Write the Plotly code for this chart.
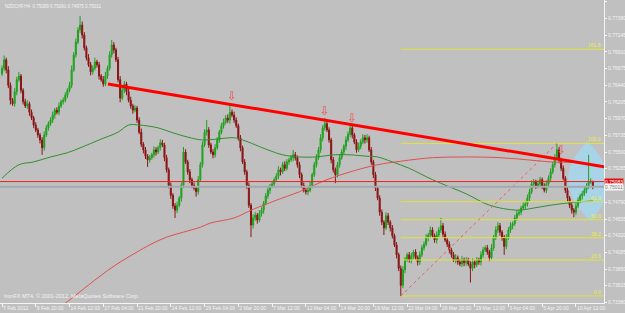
import plotly.graph_objects as go
import numpy as np

# ---------------- data ----------------
symbol_title = "NZDCHF,H4  0.75089 0.75091 0.74975 0.75011"
copyright_text = "IronFX MT4, \u00a9 2001-2012, MetaQuotes Software Corp."

first_open = 0.7660
closes = [
    0.7668, 0.7680, 0.7666, 0.7644, 0.7623, 0.7618, 0.7635, 0.7652, 0.7657, 0.7637,
    0.7621, 0.7615, 0.7618, 0.7606, 0.7598, 0.7588, 0.7581, 0.7574, 0.7567, 0.7556,
    0.7574, 0.7584, 0.7590, 0.7595, 0.7602, 0.7609, 0.7606, 0.7615, 0.7621, 0.7623,
    0.7630, 0.7637, 0.7644, 0.7666, 0.7687, 0.7705, 0.7722, 0.7729, 0.7715, 0.7697,
    0.7683, 0.7673, 0.7663, 0.7668, 0.7677, 0.7673, 0.7657, 0.7652, 0.7646, 0.7657,
    0.7668, 0.7687, 0.7701, 0.7694, 0.7680, 0.7652, 0.7626, 0.7637, 0.7646, 0.7635,
    0.7623, 0.7615, 0.7609, 0.7612, 0.7595, 0.7578, 0.7561, 0.7553, 0.7544, 0.7539,
    0.7542, 0.7546, 0.7553, 0.7550, 0.7556, 0.7563, 0.7560, 0.7542, 0.7525, 0.7503,
    0.7489, 0.7474, 0.7468, 0.7475, 0.7485, 0.7503, 0.7550, 0.7536, 0.7522, 0.7511,
    0.7503, 0.7499, 0.7494, 0.7511, 0.7532, 0.7560, 0.7578, 0.7581, 0.7560, 0.7550,
    0.7546, 0.7556, 0.7567, 0.7578, 0.7587, 0.7592, 0.7598, 0.7595, 0.7606, 0.7602,
    0.7595, 0.7587, 0.7570, 0.7556, 0.7536, 0.7522, 0.7503, 0.7475, 0.7447, 0.7457,
    0.7461, 0.7454, 0.7463, 0.7468, 0.7478, 0.7488, 0.7496, 0.7502, 0.7505, 0.7511,
    0.7516, 0.7525, 0.7522, 0.7532, 0.7527, 0.7536, 0.7539, 0.7542, 0.7546, 0.7542,
    0.7532, 0.7518, 0.7503, 0.7496, 0.7494, 0.7496, 0.7503, 0.7518, 0.7532, 0.7542,
    0.7553, 0.7570, 0.7584, 0.7590, 0.7581, 0.7567, 0.7539, 0.7525, 0.7518, 0.7532,
    0.7542, 0.7550, 0.7558, 0.7567, 0.7575, 0.7584, 0.7574, 0.7564, 0.7553, 0.7558,
    0.7564, 0.7570, 0.7567, 0.7570, 0.7553, 0.7536, 0.7518, 0.7499, 0.7485, 0.7465,
    0.7451, 0.7443, 0.7460, 0.7451, 0.7443, 0.7432, 0.7419, 0.7405, 0.7386, 0.7362,
    0.7384, 0.7398, 0.7405, 0.7398, 0.7403, 0.7409, 0.7401, 0.7395, 0.7405, 0.7415,
    0.7420, 0.7429, 0.7433, 0.7440, 0.7432, 0.7426, 0.7433, 0.7440, 0.7446, 0.7434,
    0.7426, 0.7420, 0.7412, 0.7405, 0.7398, 0.7401, 0.7395, 0.7392, 0.7398, 0.7394,
    0.7398, 0.7392, 0.7386, 0.7395, 0.7391, 0.7398, 0.7395, 0.7405, 0.7412, 0.7415,
    0.7409, 0.7401, 0.7415, 0.7429, 0.7440, 0.7446, 0.7437, 0.7429, 0.7417, 0.7429,
    0.7440, 0.7446, 0.7449, 0.7457, 0.7463, 0.7465, 0.7471, 0.7474, 0.7477, 0.7485,
    0.7494, 0.7505, 0.7508, 0.7502, 0.7505, 0.7511, 0.7502, 0.7496, 0.7505, 0.7513,
    0.7522, 0.7532, 0.7542, 0.7553, 0.7539, 0.7527, 0.7513, 0.7496, 0.7485, 0.7475,
    0.7468, 0.7465, 0.7474, 0.7482, 0.7488, 0.7491, 0.7496, 0.7502, 0.7508, 0.75089,
    0.75011,
]
upper_wick_pips = [
    4, 6, 3, 5, 4, 3, 5, 4, 6, 3,
    3, 4, 5, 3, 4, 3, 4, 3, 3, 4,
    5, 4, 3, 4, 5, 3, 4, 5, 3, 4,
    4, 3, 5, 6, 4, 5, 4, 13, 5, 4,
    3, 5, 4, 4, 6, 3, 4, 3, 5, 6,
    4, 5, 7, 4, 3, 4, 5, 6, 4, 3,
    4, 5, 3, 4, 3, 4, 5, 3, 4, 3,
    4, 3, 5, 4, 3, 5, 4, 3, 4, 3,
    4, 3, 4, 5, 3, 4, 7, 4, 3, 4,
    3, 4, 3, 5, 4, 5, 4, 14, 4, 3,
    4, 5, 4, 3, 4, 5, 4, 5, 10, 4,
    5, 4, 3, 4, 3, 4, 3, 4, 3, 5,
    4, 3, 5, 4, 3, 4, 5, 3, 4, 3,
    4, 5, 3, 4, 5, 4, 3, 4, 7, 4,
    3, 4, 3, 4, 3, 4, 5, 3, 4, 5,
    4, 5, 4, 8, 5, 4, 3, 4, 3, 4,
    5, 4, 3, 5, 4, 6, 4, 3, 4, 5,
    4, 5, 4, 5, 3, 4, 3, 4, 3, 4,
    4, 3, 5, 4, 3, 4, 3, 4, 3, 4,
    5, 4, 3, 4, 5, 3, 4, 3, 5, 4,
    4, 5, 3, 5, 4, 3, 5, 4, 11, 4,
    4, 3, 4, 3, 4, 5, 3, 4, 5, 3,
    4, 3, 4, 5, 3, 4, 3, 5, 4, 3,
    4, 3, 5, 4, 5, 5, 4, 3, 4, 5,
    4, 5, 3, 4, 5, 4, 3, 5, 4, 5,
    4, 5, 4, 3, 5, 4, 3, 4, 5, 4,
    5, 4, 5, 9, 4, 3, 4, 3, 4, 3,
    4, 3, 5, 4, 3, 4, 5, 4, 38, 4,
    0.2,
]
lower_wick_pips = [
    3, 4, 5, 4, 6, 3, 4, 5, 3, 4,
    4, 3, 4, 5, 3, 4, 3, 4, 5, 10,
    4, 3, 4, 3, 4, 5, 3, 4, 3, 4,
    3, 4, 3, 4, 3, 4, 3, 4, 5, 4,
    4, 3, 5, 4, 3, 4, 5, 3, 4, 3,
    4, 3, 4, 5, 3, 4, 6, 3, 4, 5,
    3, 4, 5, 3, 4, 3, 4, 5, 4, 10,
    4, 3, 4, 5, 3, 4, 3, 5, 4, 4,
    5, 4, 11, 4, 3, 5, 4, 3, 4, 5,
    4, 3, 7, 4, 3, 4, 3, 5, 4, 3,
    5, 4, 3, 4, 3, 4, 3, 4, 5, 3,
    4, 3, 4, 5, 3, 4, 5, 4, 17, 5,
    4, 5, 3, 4, 5, 3, 4, 5, 3, 4,
    3, 4, 5, 3, 4, 3, 4, 3, 5, 4,
    4, 5, 4, 3, 4, 5, 3, 4, 3, 4,
    3, 4, 5, 4, 3, 4, 5, 4, 12, 4,
    4, 3, 4, 5, 3, 4, 5, 3, 4, 3,
    4, 3, 5, 4, 3, 4, 5, 4, 3, 5,
    4, 10, 3, 4, 5, 4, 3, 5, 4, 15,
    4, 5, 3, 4, 5, 4, 3, 5, 4, 3,
    4, 3, 5, 4, 3, 4, 5, 3, 4, 5,
    3, 4, 5, 4, 3, 5, 4, 3, 4, 5,
    4, 3, 20, 4, 5, 3, 4, 5, 4, 3,
    4, 5, 3, 4, 3, 4, 5, 4, 12, 4,
    3, 4, 5, 3, 4, 3, 4, 3, 5, 4,
    4, 3, 5, 4, 3, 5, 4, 3, 4, 5,
    4, 3, 4, 3, 5, 4, 3, 4, 5, 4,
    5, 7, 4, 3, 4, 5, 3, 4, 4, 3,
    3.6,
]

time_labels = ["7 Feb 2012", "9 Feb 20:00", "14 Feb 12:00", "17 Feb 04:00", "21 Feb 20:00",
               "24 Feb 12:00", "29 Feb 04:00", "2 Mar 20:00", "7 Mar 12:00", "12 Mar 04:00",
               "14 Mar 20:00", "19 Mar 12:00", "22 Mar 04:00", "26 Mar 20:00", "29 Mar 12:00",
               "3 Apr 04:00", "5 Apr 20:00", "10 Apr 12:00"]
bars_per_time_label = 16

price_ticks = [0.73380, 0.73615, 0.73850, 0.74085, 0.74320, 0.74555, 0.74790, 0.75265,
               0.75500, 0.75735, 0.75970, 0.76205, 0.76440, 0.76675, 0.76910, 0.77145,
               0.77380, 0.77615]

# moving averages
ma_green_bars = [0, 8, 15, 23, 31, 38, 46, 55, 60, 65, 74, 81, 88, 95, 110, 114, 126, 133,
                 141, 149, 157, 165, 173, 178, 185, 193, 204, 220, 231, 244, 252, 260, 271, 280]
ma_green_vals = [0.7513, 0.7532, 0.7536, 0.7543, 0.7549, 0.7557, 0.7567, 0.7578, 0.7588,
                 0.7588, 0.7584, 0.7577, 0.7571, 0.7567, 0.7570, 0.7567, 0.7553, 0.7546,
                 0.7543, 0.7543, 0.7546, 0.7546, 0.7544, 0.7543, 0.7536, 0.7527, 0.7511,
                 0.7491, 0.7475, 0.7468, 0.7471, 0.7475, 0.7479, 0.7481]
ma_red_bars = [27, 31, 37, 46, 54, 64, 70, 78, 86, 94, 99, 110, 118, 124, 130, 141, 154, 165,
               178, 189, 204, 220, 236, 249, 260, 272, 280]
ma_red_vals = [0.7330, 0.7339, 0.7353, 0.7374, 0.7391, 0.7409, 0.7419, 0.7430, 0.7437,
               0.7444, 0.7450, 0.7457, 0.7468, 0.7475, 0.7482, 0.7494, 0.7511, 0.7522,
               0.7532, 0.7537, 0.7542, 0.7543, 0.7542, 0.7539, 0.7536, 0.7535, 0.7532]

# objects drawn on the chart
trend_bars = [50.2, 285.3]
trend_prices = [0.7646, 0.7529]
hline_price = 0.75083
bid_price = 0.75011
fib_anchor_bars = [189, 263]
fib_anchor_prices = [0.7347, 0.7562]
fib_levels = [0.0, 23.6, 38.2, 50.0, 61.8, 100.0, 161.8]
arrow_bars = [109, 153, 166, 265]
arrow_prices = [0.7627, 0.7607, 0.7596, 0.7551]
ellipse_top = (277.5, 0.7565)
ellipse_bottom = (279.0, 0.7453)
ellipse_half_width_bars = 9.5

# ---------------- build ----------------
pip = 0.0001
n = len(closes)
bars = list(range(n))
opens = [first_open] + closes[:-1]
highs = [max(o, c) + u * pip for o, c, u in zip(opens, closes, upper_wick_pips)]
lows = [min(o, c) - d * pip for o, c, d in zip(opens, closes, lower_wick_pips)]

x_range = [-0.95, 285.3]
y_range = [0.73371, 0.77643]

BG = "#C0C0C0"
TXT = "#F4F4F4"
FONT = "Liberation Sans"

fig = go.Figure()

# blue ellipse drawing (behind candles)
(tx, ty), (bx, by) = ellipse_top, ellipse_bottom
my = (ty + by) / 2
path = (f"M {tx},{ty} Q {tx - 2*ellipse_half_width_bars},{my} {bx},{by} "
        f"Q {tx + 2*ellipse_half_width_bars},{my} {tx},{ty} Z")
fig.add_shape(type="path", path=path, xref="x", yref="y", layer="below",
              fillcolor="#A9D3E6", line=dict(width=0))

# moving averages
fig.add_trace(go.Scatter(x=ma_green_bars, y=ma_green_vals, mode="lines",
                         line=dict(color="#2F8F2F", width=1, shape="spline"), hoverinfo="skip"))
fig.add_trace(go.Scatter(x=ma_red_bars, y=ma_red_vals, mode="lines",
                         line=dict(color="#E05050", width=1, shape="spline"), hoverinfo="skip"))

# fibonacci levels
f0, f1 = fib_anchor_prices
for lvl in fib_levels:
    p = f0 + (f1 - f0) * lvl / 100.0
    fig.add_trace(go.Scatter(x=[fib_anchor_bars[0], x_range[1]], y=[p, p], mode="lines",
                             line=dict(color="#E2E23A", width=1), hoverinfo="skip"))
    fig.add_annotation(x=x_range[1], y=p, xref="x", yref="y", text=f"{lvl:.1f}",
                       xanchor="right", yanchor="bottom", showarrow=False,
                       font=dict(family=FONT, size=5, color="#EEEE40"), xshift=-1, yshift=-1)
fig.add_trace(go.Scatter(x=fib_anchor_bars, y=fib_anchor_prices, mode="lines",
                         line=dict(color="#E46060", width=1, dash="dot"), hoverinfo="skip"))

# candles
fig.add_trace(go.Candlestick(
    x=bars, open=opens, high=highs, low=lows, close=closes,
    increasing=dict(line=dict(color="#1FA01F", width=1), fillcolor="#28B028"),
    decreasing=dict(line=dict(color="#8A1414", width=1), fillcolor="#8A1414"),
    whiskerwidth=0, hoverinfo="skip"))

# horizontal lines
fig.add_trace(go.Scatter(x=x_range, y=[bid_price, bid_price], mode="lines",
                         line=dict(color="#A2AAAE", width=2), hoverinfo="skip"))
fig.add_trace(go.Scatter(x=x_range, y=[hline_price, hline_price], mode="lines",
                         line=dict(color="#F02020", width=1), hoverinfo="skip"))

# trendline
fig.add_trace(go.Scatter(x=trend_bars, y=trend_prices, mode="lines",
                         line=dict(color="#FF0000", width=3), hoverinfo="skip"))

# arrows
fig.add_trace(go.Scatter(x=arrow_bars, y=arrow_prices, mode="text", text=["\u21e9"] * len(arrow_bars),
                         textfont=dict(family="DejaVu Sans", size=12, color="#E85050"),
                         hoverinfo="skip"))

# price boxes at right
fig.add_annotation(x=1, y=hline_price, xref="paper", yref="y", text=f"{hline_price:.5f}",
                   xanchor="left", yanchor="middle", showarrow=False, bgcolor="#E01010",
                   borderpad=0, font=dict(family=FONT, size=5, color="white"))
fig.add_annotation(x=1, y=bid_price, xref="paper", yref="y", text=f"{bid_price:.5f}",
                   xanchor="left", yanchor="middle", showarrow=False, bgcolor="#F4F4F4",
                   borderpad=0, font=dict(family=FONT, size=5, color="#808080"))

# texts
fig.add_annotation(x=0.005, y=0.995, xref="paper", yref="paper", text=symbol_title,
                   xanchor="left", yanchor="top", showarrow=False,
                   font=dict(family=FONT, size=4.5, color=TXT))
fig.add_annotation(x=0.003, y=0.0, xref="paper", yref="paper", text=copyright_text,
                   xanchor="left", yanchor="bottom", showarrow=False, yshift=2,
                   font=dict(family=FONT, size=5.5, color=TXT))

fig.update_layout(
    width=625, height=313,
    margin=dict(l=0, r=21, t=0, b=10, autoexpand=False),
    paper_bgcolor=BG, plot_bgcolor=BG,
    showlegend=False,
    xaxis=dict(range=x_range, rangeslider=dict(visible=False), showgrid=False, zeroline=False,
               showline=True, linecolor=TXT, linewidth=1, automargin=False,
               tickvals=[k * bars_per_time_label for k in range(len(time_labels))],
               ticktext=time_labels, ticks="outside", ticklen=3, tickcolor=TXT,
               tickangle=0, ticklabelposition="outside right",
               tickfont=dict(family=FONT, size=5, color=TXT)),
    yaxis=dict(range=y_range, side="right", showgrid=False, zeroline=False,
               showline=True, linecolor=TXT, linewidth=1, automargin=False,
               tickvals=price_ticks, ticktext=[f"{v:.5f}" for v in price_ticks],
               ticks="outside", ticklen=2, tickcolor=TXT,
               tickfont=dict(family=FONT, size=5, color=TXT)),
)

fig.write_html("out.html")
